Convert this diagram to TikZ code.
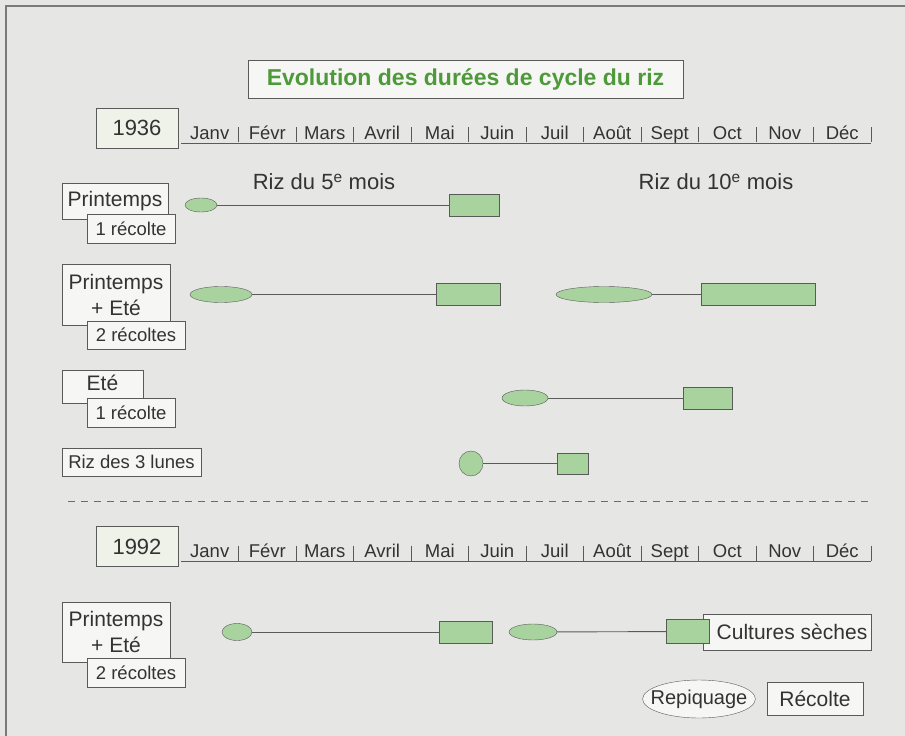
\documentclass[tikz,border=0pt]{standalone}
\usepackage{fontspec}
\setmainfont{Liberation Sans}
\usetikzlibrary{shapes.geometric}
\definecolor{fond}{HTML}{E6E6E4}
\definecolor{papier}{HTML}{F6F6F4}
\definecolor{pale}{HTML}{EEF2E8}
\definecolor{riz}{HTML}{A9D39E}
\definecolor{titre}{HTML}{4E9A3A}
\definecolor{trait}{HTML}{5A5A5A}
\definecolor{encre}{HTML}{333333}
\begin{document}
\begin{tikzpicture}[x=1pt,y=-1pt,
  cadre/.style={draw=trait,fill=papier,text=encre,inner sep=0pt,font=\fontsize{21}{26}\selectfont},
  sous/.style={cadre,font=\fontsize{18.5}{20}\selectfont},
  annee/.style={cadre,fill=pale,font=\fontsize{22}{24}\selectfont},
  mois/.style={text=encre,inner sep=0pt,font=\fontsize{18.5}{20}\selectfont},
  repiq/.style={ellipse,draw=trait,fill=riz,inner sep=0pt},
  recol/.style={rectangle,draw=trait,fill=riz,inner sep=0pt},
  tige/.style={draw=trait,line width=0.9pt}]
\useasboundingbox[fill=fond] (0,0) rectangle (905,736);
\draw[trait!80,line width=2pt] (6,736) -- (6,6) -- (905,6);

\node[cadre,minimum width=435,minimum height=38,text=titre,font=\fontsize{23}{25}\selectfont\bfseries] (titre) at (465.5,79) {Evolution des durées de cycle du riz};

\foreach \an/\yy in {1936/128,1992/546.5}
{
    \node[annee,minimum width=82,minimum height=40] (a\an) at (137,\yy) {\an};
    \draw[trait,line width=0.9pt] (181,\yy+15) -- (871,\yy+15);
    \foreach \m [count=\i] in {Janv,Févr,Mars,Avril,Mai,Juin,Juil,Août,Sept,Oct,Nov,Déc}
    {
        \node[mois,anchor=base] (m\an-\i) at ({181+57.5*(\i-0.5)},\yy+11) {\m};
        \draw[trait,line width=0.9pt] ({181+57.5*\i},\yy-1) -- ++(0,15);
    }
}

\node[mois,font=\fontsize{22}{24}\selectfont] (riz5) at (324,182) {Riz du 5\textsuperscript{e} mois};
\node[mois,font=\fontsize{22}{24}\selectfont] (riz10) at (716,182) {Riz du 10\textsuperscript{e} mois};

% 1936
\node[cadre,minimum width=106,minimum height=36] (l1) at (115,201) {Printemps};
\node[sous,minimum width=88,minimum height=29] (s1) at (131,228.5) {1 récolte};
\node[repiq,minimum width=32,minimum height=14] (p1) at (201,205) {};
\node[recol,minimum width=50,minimum height=22] (r1) at (474,205) {};
\draw[tige] (p1) -- (r1);

\node[cadre,minimum width=108,minimum height=61,align=center] (l2) at (116,294.5) {Printemps\\+ Eté};
\node[sous,minimum width=98,minimum height=28] (s2) at (136,335) {2 récoltes};
\node[repiq,minimum width=62,minimum height=16] (p2) at (221,294.5) {};
\node[recol,minimum width=64,minimum height=22] (r2) at (468,294.5) {};
\draw[tige] (p2) -- (r2);
\node[repiq,minimum width=96,minimum height=16] (p3) at (604,294.5) {};
\node[recol,minimum width=114,minimum height=22] (r3) at (758,294.5) {};
\draw[tige] (p3) -- (r3);

\node[cadre,minimum width=81,minimum height=33] (l3) at (102.5,386.5) {Eté\rule[-8pt]{0pt}{0pt}};
\node[sous,minimum width=88,minimum height=29] (s3) at (131,412.5) {1 récolte};
\node[repiq,minimum width=46,minimum height=16] (p4) at (525,398) {};
\node[recol,minimum width=49,minimum height=22] (r4) at (707.5,398) {};
\draw[tige] (p4) -- (r4);

\node[sous,minimum width=139,minimum height=28] (l4) at (131.5,462) {Riz des 3 lunes};
\node[repiq,minimum width=24,minimum height=25] (p5) at (471,463.5) {};
\node[recol,minimum width=31,minimum height=21] (r5) at (572.5,463.5) {};
\draw[tige] (p5) -- (r5);

\draw[trait!90,line width=0.9pt,dash pattern=on 7pt off 6pt] (68,501) -- (872,501);

% 1992
\node[cadre,minimum width=108,minimum height=60,align=center] (l5) at (116,632) {Printemps\\+ Eté};
\node[sous,minimum width=98,minimum height=29] (s5) at (136,672.5) {2 récoltes};
\node[repiq,minimum width=30,minimum height=17] (p6) at (237,632) {};
\node[recol,minimum width=53,minimum height=22] (r6) at (465.5,632) {};
\draw[tige] (p6) -- (r6);
\node[cadre,minimum width=168,minimum height=36] (sec) at (787,632) {\hspace*{10pt}Cultures sèches};
\node[repiq,minimum width=48,minimum height=16] (p7) at (533,632) {};
\node[recol,minimum width=43,minimum height=24] (r7) at (687.5,631.5) {};
\draw[tige] (p7) -- (r7);

\node[cadre,ellipse,inner xsep=-8.5pt,inner ysep=0pt,minimum width=112,minimum height=38,font=\fontsize{20}{22}\selectfont] (leg1) at (699,699) {Repiquage};
\node[cadre,minimum width=96,minimum height=33] (leg2) at (815,698.5) {Récolte};
\end{tikzpicture}
\end{document}
